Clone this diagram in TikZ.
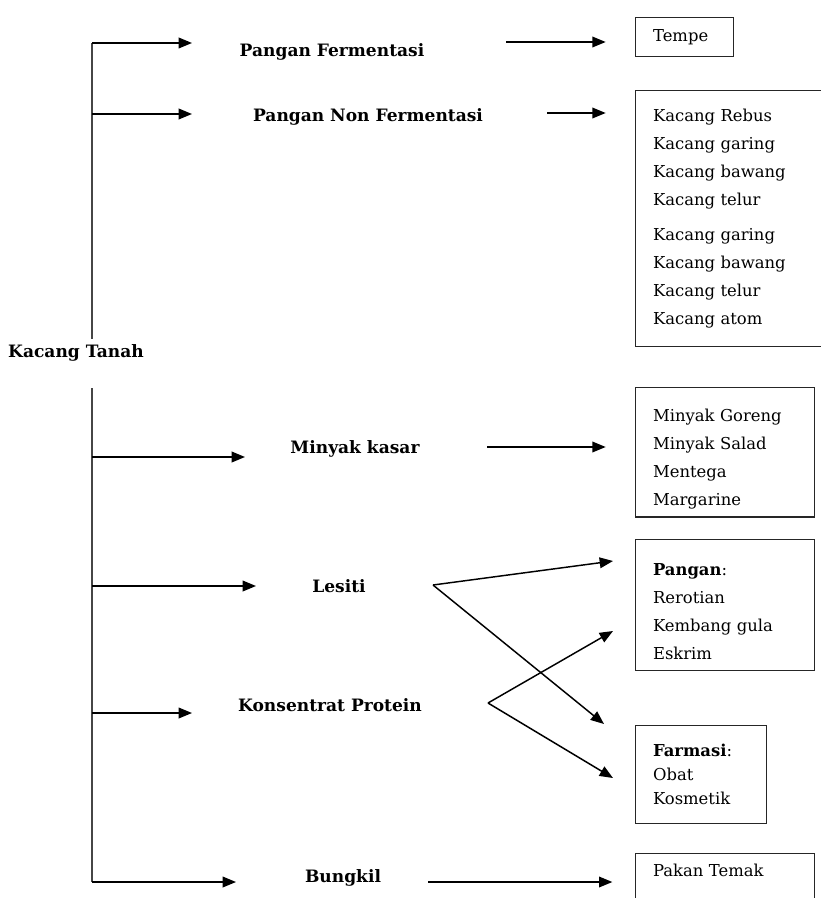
\documentclass[tikz,border=0pt]{standalone}
\usepackage{fontspec}
\setmainfont{DejaVu Serif}
\usepackage{xcolor}
\usetikzlibrary{arrows.meta,positioning}
\definecolor{lgray}{RGB}{70,70,70}

\begin{document}
\begin{tikzpicture}[
    x=0.75pt, y=-0.75pt,
    lbl/.style={font=\fontsize{12.8}{15}\selectfont\bfseries, inner sep=0pt},
    item/.style={draw=black!85, line width=1.1pt, anchor=north west, align=left,
                 inner xsep=13pt, inner ysep=3pt, font=\fontsize{12.3}{21}\selectfont},
    arr/.style={-{Triangle[length=10pt,width=8pt]}, line width=1.1pt},
    trunk/.style={draw=lgray, line width=1.3pt}
]
\useasboundingbox (0,0) rectangle (820,898);

% main product and its groups
\node[lbl] (root) at (76,353) {Kacang Tanah};
\node[lbl] (fer) at (332,52) {Pangan Fermentasi};
\node[lbl] (nonfer) at (368,117) {Pangan Non Fermentasi};
\node[lbl] (minyak) at (355,449) {Minyak kasar};
\node[lbl] (lesiti) at (339,586) {Lesiti};
\node[lbl] (konsentrat) at (330,705) {Konsentrat Protein};
\node[lbl] (bungkil) at (343,878) {Bungkil};

% product boxes
\node[item, text width=47.5pt, minimum height=29pt] (tempe) at (635,17) {Tempe};
\node[item, text width=124pt, minimum height=192pt] (kacang) at (635,90)
    {Kacang Rebus\\Kacang garing\\Kacang bawang\\Kacang telur\\[5pt]
     Kacang garing\\Kacang bawang\\Kacang telur\\Kacang atom};
\node[item, text width=108pt, minimum height=97pt] (goreng) at (635,387)
    {\rule{0pt}{19pt}Minyak Goreng\\Minyak Salad\\Mentega\\Margarine};
\node[item, text width=108pt, minimum height=98pt] (pangan) at (635,539)
    {\rule{0pt}{19pt}\textbf{Pangan}:\\Rerotian\\Kembang gula\\Eskrim};
\node[item, text width=72pt, minimum height=73.5pt,
      font=\fontsize{12.3}{18}\selectfont] (farmasi) at (635,725)
    {\textbf{Farmasi}:\\Obat\\Kosmetik};
\node[item, text width=108pt, inner ysep=8pt] (pakan) at (635,853) {Pakan Temak\\ \mbox{}};

% trunk
\coordinate (ttop) at (92,43);
\coordinate (tup) at (92,339);
\coordinate (tlow) at (92,388);
\coordinate (tbot) at (92,882);
\draw[trunk] (ttop) -- (tup);
\draw[trunk] (tlow) -- (tbot);

% branch tips
\coordinate (e1) at (192,43);
\coordinate (e2) at (192,114);
\coordinate (e3) at (245,457);
\coordinate (e4) at (256,586);
\coordinate (e5) at (192,713);
\coordinate (e6) at (236,882);
\draw[arr] (ttop) -- (e1);
\draw[arr] (ttop |- e2) -- (e2);
\draw[arr] (ttop |- e3) -- (e3);
\draw[arr] (ttop |- e4) -- (e4);
\draw[arr] (ttop |- e5) -- (e5);
\draw[arr] (tbot) -- (e6);

% group to product
\coordinate (s1) at (506,42);
\coordinate (s2) at (547,113);
\coordinate (s3) at (487,447);
\coordinate (s4) at (428,882);
\draw[arr, shorten >=22pt] (s1) -- (s1 -| tempe.west);
\draw[arr, shorten >=22pt] (s2) -- (s2 -| kacang.west);
\draw[arr, shorten >=22pt] (s3) -- (s3 -| goreng.west);
\draw[arr, shorten >=17pt] (s4) -- (s4 -| pakan.west);

% crossing arrows
\coordinate (ls) at (433,585);
\coordinate (kp) at (488,703);
\coordinate (lp) at (613,561);
\coordinate (lf) at (604,724);
\coordinate (kpp) at (613,631);
\coordinate (kf) at (613,778);
\draw[arr] (ls) -- (lp);
\draw[arr] (ls) -- (lf);
\draw[arr] (kp) -- (kpp);
\draw[arr] (kp) -- (kf);
\end{tikzpicture}
\end{document}
